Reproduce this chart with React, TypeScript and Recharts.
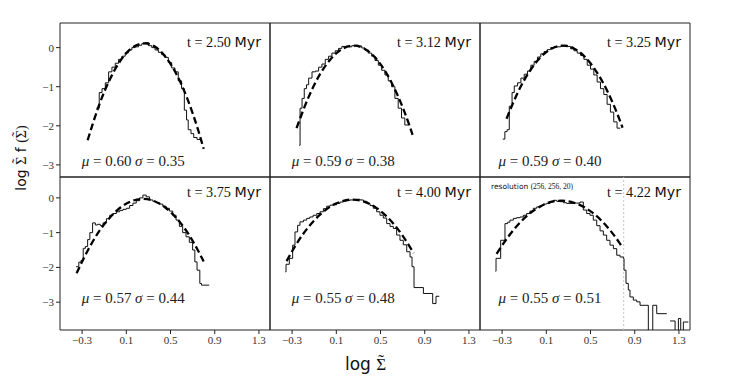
import React from 'react';
import { LineChart, Line, XAxis, YAxis, ReferenceArea, ReferenceLine } from 'recharts';

const times = ['2.50', '3.12', '3.25', '3.75', '4.00', '4.22'];
const mus = ['0.60', '0.59', '0.59', '0.57', '0.55', '0.55'];
const sigmas = ['0.35', '0.38', '0.40', '0.44', '0.48', '0.51'];
const xTicks = [-0.3, 0.1, 0.5, 0.9, 1.3];
const yTicks = [-3, -2, -1, 0];

// histogram steps: [bin left edge, log value]
const hist1 = [[-0.17, -1.55], [-0.145, -1.15], [-0.12, -1.05], [-0.09, -0.9], [-0.06, -0.62], [-0.03, -0.5], [0.0, -0.4], [0.03, -0.3], [0.06, -0.22], [0.09, -0.13], [0.12, -0.06], [0.15, 0.0], [0.18, 0.02], [0.21, 0.06], [0.24, 0.1], [0.27, 0.13], [0.3, 0.05], [0.33, 0.0], [0.36, -0.06], [0.39, -0.12], [0.42, -0.18], [0.45, -0.25], [0.48, -0.38], [0.51, -0.52], [0.54, -0.62], [0.57, -0.85], [0.6, -1.05], [0.625, -1.6], [0.645, -1.85], [0.66, -2.1], [0.685, -2.2], [0.71, -2.3], [0.74, -2.35], [0.77, -2.35]];
const hist2 = [[-0.235, -2.5], [-0.228, -1.55], [-0.21, -1.3], [-0.19, -1.05], [-0.17, -0.95], [-0.15, -0.78], [-0.12, -0.62], [-0.09, -0.6], [-0.06, -0.5], [-0.03, -0.42], [0.0, -0.3], [0.03, -0.22], [0.06, -0.14], [0.09, -0.08], [0.12, -0.02], [0.15, 0.03], [0.18, 0.03], [0.21, 0.02], [0.24, 0.05], [0.27, 0.06], [0.3, 0.04], [0.33, -0.01], [0.36, -0.06], [0.39, -0.14], [0.42, -0.22], [0.45, -0.33], [0.48, -0.45], [0.51, -0.58], [0.54, -0.7], [0.57, -0.85], [0.6, -1.0], [0.63, -1.3], [0.66, -1.55], [0.69, -1.8], [0.72, -1.98], [0.75, -1.98]];
const hist3 = [[-0.294, -2.34], [-0.275, -2.15], [-0.255, -2.1], [-0.235, -1.5], [-0.21, -1.15], [-0.19, -0.98], [-0.16, -0.9], [-0.13, -0.78], [-0.1, -0.68], [-0.07, -0.6], [-0.04, -0.45], [-0.01, -0.35], [0.02, -0.24], [0.05, -0.16], [0.08, -0.1], [0.11, -0.05], [0.14, 0.0], [0.17, 0.02], [0.2, 0.02], [0.23, 0.04], [0.26, 0.06], [0.29, 0.03], [0.32, -0.03], [0.35, -0.08], [0.38, -0.14], [0.41, -0.2], [0.44, -0.3], [0.47, -0.45], [0.5, -0.55], [0.53, -0.7], [0.56, -0.88], [0.59, -1.05], [0.62, -1.2], [0.65, -1.45], [0.68, -1.65], [0.71, -1.9], [0.74, -2.06], [0.77, -2.06]];
const hist4 = [[-0.355, -1.98], [-0.33, -1.85], [-0.31, -1.8], [-0.29, -1.45], [-0.27, -1.4], [-0.25, -1.2], [-0.23, -1.0], [-0.205, -0.72], [-0.18, -0.78], [-0.16, -0.76], [-0.135, -0.8], [-0.11, -0.72], [-0.08, -0.6], [-0.05, -0.5], [-0.02, -0.45], [0.01, -0.4], [0.04, -0.36], [0.07, -0.33], [0.1, -0.3], [0.13, -0.22], [0.16, -0.15], [0.19, -0.08], [0.22, 0.0], [0.25, 0.08], [0.28, 0.03], [0.31, -0.06], [0.34, -0.1], [0.37, -0.14], [0.4, -0.18], [0.43, -0.24], [0.46, -0.3], [0.49, -0.38], [0.52, -0.5], [0.55, -0.64], [0.58, -0.82], [0.61, -1.0], [0.64, -1.12], [0.67, -1.28], [0.7, -1.5], [0.72, -1.84], [0.74, -2.08], [0.765, -2.46], [0.78, -2.51], [0.85, -2.51]];
const hist5 = [[-0.36, -2.13], [-0.355, -1.91], [-0.325, -1.74], [-0.295, -1.36], [-0.274, -0.98], [-0.25, -0.79], [-0.229, -0.69], [-0.198, -0.64], [-0.168, -0.59], [-0.14, -0.55], [-0.11, -0.5], [-0.077, -0.45], [-0.047, -0.4], [-0.017, -0.31], [0.013, -0.24], [0.043, -0.21], [0.073, -0.2], [0.103, -0.16], [0.133, -0.12], [0.163, -0.09], [0.194, -0.07], [0.224, -0.06], [0.254, -0.05], [0.284, -0.04], [0.314, -0.06], [0.345, -0.1], [0.375, -0.16], [0.405, -0.22], [0.435, -0.3], [0.465, -0.4], [0.495, -0.5], [0.525, -0.58], [0.556, -0.74], [0.586, -0.82], [0.616, -0.88], [0.646, -1.07], [0.676, -1.22], [0.706, -1.35], [0.737, -1.55], [0.767, -1.7], [0.785, -1.98], [0.803, -2.58], [0.888, -2.75], [0.972, -3.04], [1.002, -2.83], [1.032, -2.83]];
const hist6 = [[-0.36, -2.11], [-0.355, -1.74], [-0.313, -1.22], [-0.274, -0.74], [-0.25, -0.7], [-0.229, -0.64], [-0.198, -0.59], [-0.168, -0.57], [-0.138, -0.55], [-0.108, -0.5], [-0.078, -0.45], [-0.048, -0.38], [-0.018, -0.3], [0.013, -0.26], [0.043, -0.22], [0.073, -0.18], [0.103, -0.16], [0.133, -0.12], [0.163, -0.07], [0.194, -0.1], [0.224, -0.11], [0.254, -0.14], [0.284, -0.16], [0.314, -0.16], [0.345, -0.15], [0.375, -0.15], [0.405, -0.12], [0.435, -0.35], [0.465, -0.45], [0.495, -0.5], [0.525, -0.64], [0.556, -0.8], [0.586, -0.95], [0.616, -1.07], [0.646, -1.22], [0.676, -1.36], [0.707, -1.46], [0.737, -1.65], [0.767, -1.7], [0.797, -1.74], [0.803, -2.08], [0.821, -2.46], [0.842, -2.65], [0.857, -2.85], [0.887, -2.94], [0.918, -2.99], [0.948, -3.09], [0.993, -3.09], [1.023, -4.5], [1.063, -3.09], [1.099, -3.33], [1.19, -3.33], [1.19, null], [1.22, -3.54], [1.265, -4.5], [1.295, -3.47], [1.316, -4.5], [1.34, -3.57], [1.385, -3.57]];

// lognormal fit (dashed)
const fit1 = [[-0.25, -2.37], [-0.15, -1.5], [-0.05, -0.82], [0.05, -0.32], [0.15, -0.01], [0.264, 0.11], [0.35, 0.04], [0.45, -0.22], [0.55, -0.66], [0.65, -1.29], [0.75, -2.11], [0.8, -2.59]];
const fit2 = [[-0.26, -2.06], [-0.15, -1.26], [-0.05, -0.69], [0.05, -0.29], [0.15, -0.04], [0.255, 0.05], [0.35, -0.02], [0.45, -0.25], [0.55, -0.64], [0.65, -1.19], [0.75, -1.9], [0.79, -2.23]];
const fit3 = [[-0.26, -1.82], [-0.15, -1.1], [-0.05, -0.6], [0.05, -0.24], [0.15, -0.02], [0.25, 0.05], [0.35, -0.02], [0.45, -0.24], [0.55, -0.6], [0.65, -1.1], [0.75, -1.75], [0.79, -2.05]];
const fit4 = [[-0.35, -2.17], [-0.25, -1.52], [-0.15, -0.98], [-0.05, -0.57], [0.05, -0.27], [0.15, -0.09], [0.25, -0.03], [0.35, -0.09], [0.45, -0.27], [0.55, -0.57], [0.65, -0.98], [0.75, -1.52], [0.8, -1.83]];
const fit5 = [[-0.35, -1.82], [-0.25, -1.27], [-0.15, -0.83], [-0.05, -0.49], [0.05, -0.24], [0.15, -0.1], [0.245, -0.05], [0.35, -0.11], [0.45, -0.26], [0.55, -0.52], [0.65, -0.87], [0.75, -1.33], [0.8, -1.59]];
const fit6 = [[-0.35, -1.61], [-0.25, -1.14], [-0.15, -0.75], [-0.05, -0.45], [0.05, -0.24], [0.15, -0.11], [0.238, -0.08], [0.35, -0.14], [0.45, -0.28], [0.55, -0.51], [0.65, -0.83], [0.75, -1.24], [0.79, -1.43]];

const hists = [hist1, hist2, hist3, hist4, hist5, hist6];
const fits = [fit1, fit2, fit3, fit4, fit5, fit6];

const colLeft = [60, 270, 480];
const rowTop = [23, 177];
const rowBottom = [177, 330];
const yDomains = [[-3.31, 0.63], [-3.8, 0.6]];
const tBaseline = [46.5, 196.5];
const muBaseline = [165.5, 302.8];
const muLeft = [81.7, 291.7, 498.5];

const SERIF = '"Liberation Serif", "DejaVu Serif", serif';
const SANS = '"DejaVu Sans", sans-serif';

const toPts = (arr: (number | null)[][]) => arr.map(([x, y]) => ({ x, y }));
const fmt = (v: number) => (v < 0 ? '\u2212' + Math.abs(v) : String(v));

// Σ with a tilde placed over it (fs = font size); the text after it must shift by restore()
const tildeGeom = (fs: number) => {
  const sw = 0.592 * fs;
  const tw = 0.333 * fs;
  return { back: sw / 2 + tw / 2, up: 0.26 * fs, tw };
};
function sigmaTilde(fs: number, k: string) {
  const g = tildeGeom(fs);
  return [
    <tspan key={k + 'a'} fontFamily={SERIF}>Σ</tspan>,
    <tspan key={k + 'b'} fontFamily={SERIF} dx={-g.back} dy={-g.up}>˜</tspan>,
  ];
}
const restore = (fs: number) => {
  const g = tildeGeom(fs);
  return { dx: g.back - g.tw, dy: g.up };
};

function Panel({ i }: { i: number }) {
  const row = Math.floor(i / 3);
  const col = i % 3;
  const left = colLeft[col];
  const right = left + 210;
  const top = rowTop[row];
  const bottom = rowBottom[row];
  const yDomain = yDomains[row];
  const showX = row === 1;
  return (
    <div style={{ position: 'absolute', left: 0, top: 0 }}>
      <LineChart
        width={748}
        height={381}
        margin={{ top, left: left - 30, right: 748 - right, bottom: 381 - bottom - (showX ? 30 : 0) }}
      >
        <XAxis
          type="number"
          dataKey="x"
          domain={[-0.5, 1.4]}
          ticks={xTicks}
          allowDataOverflow
          hide={!showX}
          height={30}
          axisLine={false}
          tickSize={4}
          tickLine={{ stroke: '#222' }}
          tick={{ fontSize: 11, fontFamily: SERIF, fill: '#333' }}
          tickFormatter={fmt}
          interval={0}
        />
        <YAxis
          type="number"
          domain={yDomain}
          ticks={yTicks}
          allowDataOverflow
          width={30}
          axisLine={false}
          tickSize={4}
          tickLine={{ stroke: '#222' }}
          tick={col === 0 ? { fontSize: 11, fontFamily: SERIF, fill: '#333' } : false}
          tickFormatter={fmt}
          interval={0}
        />
        {i === 5 && (
          <ReferenceLine x={0.8} stroke="#c8c8c8" strokeDasharray="2 2" strokeWidth={1} />
        )}
        <Line
          data={toPts(hists[i])}
          dataKey="y"
          type="stepAfter"
          stroke="#111"
          strokeWidth={1}
          dot={false}
          isAnimationActive={false}
        />
        <Line
          data={toPts(fits[i])}
          dataKey="y"
          type="monotone"
          stroke="#000"
          strokeWidth={2.3}
          strokeDasharray="7 3.5"
          dot={false}
          isAnimationActive={false}
        />
        <ReferenceArea
          x1={-0.5}
          x2={1.4}
          y1={yDomain[0]}
          y2={yDomain[1]}
          fill="none"
          stroke="#222"
          strokeWidth={1}
          ifOverflow="visible"
        />
      </LineChart>
    </div>
  );
}

export default function App() {
  const r14 = restore(14);
  return (
    <div style={{ position: 'absolute', left: 0, top: 0, width: 748, height: 381, background: '#fff' }}>
      {times.map((_, i) => (
        <Panel key={i} i={i} />
      ))}
      <svg width={748} height={381} style={{ position: 'absolute', left: 0, top: 0 }}>
        {times.map((t, i) => {
          const row = Math.floor(i / 3);
          const col = i % 3;
          const right = colLeft[col] + 210;
          return (
            <g key={i}>
              <text x={right - 9} y={tBaseline[row]} textAnchor="end" fontSize={14} fill="#111" textLength={74} lengthAdjust="spacingAndGlyphs">
                <tspan fontFamily={SERIF}>t = {t} </tspan>
                <tspan fontFamily={SANS}>Myr</tspan>
              </text>
              <text x={muLeft[col]} y={muBaseline[row]} fontSize={14} fill="#222" fontFamily={SERIF} textLength={103} lengthAdjust="spacingAndGlyphs">
                <tspan fontStyle="italic">μ</tspan> = {mus[i]} <tspan fontStyle="italic">σ</tspan> = {sigmas[i]}
              </text>
            </g>
          );
        })}
        <text x={491} y={189} fontSize={7.5} fill="#111">
          <tspan fontFamily={SANS}>resolution </tspan>
          <tspan fontFamily={SERIF}>(256, 256, 20)</tspan>
        </text>
        <text x={345} y={370} fontSize={17} fill="#111">
          <tspan fontFamily={SANS}>log </tspan>
          {sigmaTilde(17, 'x')}
        </text>
        <text x={0} y={0} transform="translate(26,158) rotate(-90)" textAnchor="middle" fontSize={14} fill="#111">
          <tspan fontFamily={SANS}>log </tspan>
          {sigmaTilde(14, 'y1')}
          <tspan fontFamily={SANS} dx={r14.dx} dy={r14.dy}> f </tspan>
          <tspan fontFamily={SERIF}>(</tspan>
          {sigmaTilde(14, 'y2')}
          <tspan fontFamily={SERIF} dx={r14.dx} dy={r14.dy}>)</tspan>
        </text>
      </svg>
    </div>
  );
}
